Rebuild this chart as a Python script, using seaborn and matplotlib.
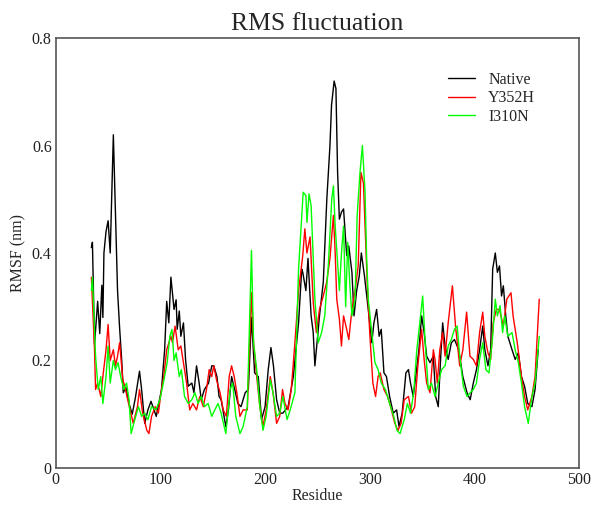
import matplotlib
matplotlib.use('Agg')
import matplotlib.pyplot as plt
import numpy as np
import pandas as pd
import seaborn as sns

# значения (остаток, RMSF в нм)
native_res = [34, 35, 37, 40, 42, 44, 45, 46, 48, 50, 51, 52, 55, 59, 61, 63, 64.5, 67, 70, 73,
              76, 80, 82, 85, 88, 91, 96, 101, 104, 106, 108, 110, 113, 115, 116, 118, 119.5, 122, 124, 126.5,
              130, 132, 134.5, 137, 139, 142, 146, 149, 151, 154, 156, 158, 162.5, 165, 168, 171, 174, 177, 181, 184,
              187, 190, 193.5, 196.6, 200, 203, 205.6, 208, 211, 214, 217, 222, 227, 232, 235, 236, 239, 241, 244, 246,
              247.6, 249, 252, 255.6, 259, 262, 263.5, 266, 267.7, 269.3, 271, 273, 275, 278, 280, 283, 285, 287.5, 290, 292,
              295, 298.6, 302, 304, 306.6, 309, 311, 313.6, 316, 319, 322.5, 325.7, 328, 331, 334.6, 337, 339, 341.6, 344, 347,
              349.6, 352, 354.4, 357.6, 360.8, 363, 365.5, 367.7, 369.7, 372, 375, 378, 381, 385, 389, 393, 396, 399, 402, 405,
              408, 410, 413, 415.6, 417.5, 420, 422, 424, 426, 427.7, 430, 432, 436, 439, 442, 445, 448, 451, 455, 458, 461]
native_rmsf = [0.41, 0.42, 0.23, 0.31, 0.25, 0.34, 0.28, 0.40, 0.44, 0.46, 0.43, 0.40, 0.62, 0.33, 0.26, 0.20, 0.14, 0.15, 0.12, 0.10,
               0.13, 0.18, 0.146, 0.083, 0.108, 0.124, 0.096, 0.146, 0.22, 0.31, 0.27, 0.355, 0.295, 0.313, 0.258, 0.292, 0.245, 0.27, 0.202, 0.152,
               0.158, 0.14, 0.19, 0.158, 0.127, 0.146, 0.158, 0.19, 0.19, 0.17, 0.133, 0.127, 0.077, 0.108, 0.17, 0.146, 0.12, 0.114, 0.14, 0.146,
               0.28, 0.177, 0.17, 0.09, 0.114, 0.183, 0.224, 0.19, 0.127, 0.102, 0.102, 0.114, 0.17, 0.27, 0.37, 0.364, 0.33, 0.39, 0.283, 0.252,
               0.19, 0.22, 0.283, 0.345, 0.50, 0.60, 0.675, 0.72, 0.706, 0.55, 0.463, 0.476, 0.482, 0.395, 0.413, 0.364, 0.283, 0.33, 0.357, 0.40,
               0.357, 0.295, 0.233, 0.27, 0.295, 0.245, 0.258, 0.177, 0.17, 0.133, 0.102, 0.108, 0.077, 0.102, 0.177, 0.183, 0.158, 0.133, 0.17, 0.22,
               0.283, 0.252, 0.208, 0.196, 0.208, 0.133, 0.114, 0.202, 0.27, 0.227, 0.202, 0.233, 0.239, 0.22, 0.17, 0.14, 0.127, 0.158, 0.183, 0.22,
               0.264, 0.22, 0.19, 0.22, 0.37, 0.40, 0.364, 0.376, 0.32, 0.339, 0.283, 0.245, 0.22, 0.202, 0.214, 0.17, 0.152, 0.12, 0.114, 0.146, 0.22]

y352h_res = [34, 37, 38, 40, 43, 45, 48, 50, 52, 55, 57, 59, 61, 64, 66, 68, 71, 74, 78, 80,
             83, 87, 89, 91.5, 95, 98, 101, 103, 106, 110, 111.5, 114, 117, 119.5, 122, 125, 128, 131, 134.5, 137.6,
             141, 144, 146.6, 149, 151, 153.6, 157, 160, 163, 165.7, 168, 170.5, 173, 176, 179, 183, 187, 189, 192, 195,
             198, 201, 205, 207.6, 211, 214, 216.7, 219, 222, 225, 228.5, 232, 236, 238, 240, 243, 246, 249, 252, 255.6,
             258.8, 262, 265.3, 267, 268.5, 271, 273, 275, 278, 280, 283, 286, 289, 291.6, 294, 296, 297.6, 300, 303, 305.6,
             308, 310, 313.6, 317, 320, 324, 327, 330, 333, 337, 340, 343, 346, 349.6, 352, 354.4, 357.6, 360.8, 362.4, 364.6,
             367, 369.7, 372, 375, 379, 382, 386, 389, 392.6, 395.8, 399, 402, 405, 408, 410, 413, 415.6, 418, 421, 424,
             427.7, 431, 435, 437, 441, 445, 448, 451, 455, 458, 462]
y352h_rmsf = [0.355, 0.22, 0.146, 0.158, 0.133, 0.17, 0.22, 0.267, 0.20, 0.22, 0.19, 0.208, 0.233, 0.164, 0.152, 0.133, 0.108, 0.083, 0.114, 0.146,
              0.102, 0.07, 0.064, 0.096, 0.114, 0.102, 0.146, 0.168, 0.22, 0.245, 0.233, 0.264, 0.22, 0.227, 0.196, 0.158, 0.108, 0.12, 0.108, 0.133,
              0.114, 0.146, 0.183, 0.17, 0.19, 0.164, 0.14, 0.108, 0.096, 0.17, 0.19, 0.17, 0.14, 0.096, 0.108, 0.108, 0.326, 0.233, 0.17, 0.114,
              0.077, 0.108, 0.17, 0.14, 0.083, 0.096, 0.146, 0.12, 0.108, 0.146, 0.233, 0.33, 0.395, 0.445, 0.40, 0.43, 0.308, 0.252, 0.295, 0.32,
              0.345, 0.39, 0.47, 0.40, 0.314, 0.277, 0.227, 0.283, 0.258, 0.239, 0.295, 0.33, 0.376, 0.55, 0.53, 0.426, 0.345, 0.252, 0.158, 0.133,
              0.17, 0.177, 0.146, 0.133, 0.114, 0.083, 0.07, 0.083, 0.127, 0.133, 0.102, 0.114, 0.19, 0.258, 0.202, 0.158, 0.14, 0.22, 0.202, 0.158,
              0.22, 0.252, 0.208, 0.27, 0.339, 0.264, 0.19, 0.22, 0.29, 0.208, 0.202, 0.19, 0.252, 0.29, 0.245, 0.214, 0.202, 0.27, 0.295, 0.295,
              0.264, 0.314, 0.326, 0.283, 0.233, 0.17, 0.133, 0.108, 0.133, 0.17, 0.314]

i310n_res = [34, 35, 38, 40.5, 43, 45, 48, 50, 52, 55, 57, 59.5, 62, 65, 67.6, 70, 72, 75.5, 79, 82,
             85, 88, 91.5, 95.6, 99.5, 104, 106.4, 109, 111, 113, 115, 118, 120, 123, 126.5, 130, 133, 136, 139, 142,
             145.6, 149, 152, 155, 158, 162.5, 166.6, 169, 172, 176, 179, 183, 187, 189, 192, 195, 198, 201, 205, 207.6,
             211, 214, 217, 221, 224, 228.5, 232, 236.4, 239, 240, 242, 244, 247.6, 250.8, 254, 257, 260.4, 263.7, 265.3, 267,
             269, 271, 273, 275, 277, 279, 281, 283, 286, 288, 290.7, 293, 295.5, 297, 298.6, 302, 305, 308, 311, 315,
             319, 323, 326, 329, 333, 336, 339, 342, 345, 348.6, 350.6, 353, 356, 359, 362.4, 365.5, 368.7, 372, 375, 378,
             381, 383.6, 386, 389.5, 393, 396, 399, 402, 405, 408, 411, 414, 417.5, 420, 422, 424.6, 427, 429, 432, 436,
             439, 442, 445, 448, 451.5, 455, 458, 462]
i310n_rmsf = [0.33, 0.355, 0.208, 0.146, 0.17, 0.12, 0.17, 0.227, 0.158, 0.20, 0.183, 0.196, 0.17, 0.146, 0.158, 0.127, 0.064, 0.09, 0.114, 0.096,
              0.102, 0.09, 0.114, 0.108, 0.127, 0.17, 0.196, 0.245, 0.258, 0.20, 0.214, 0.17, 0.183, 0.133, 0.12, 0.127, 0.14, 0.12, 0.133, 0.114,
              0.12, 0.096, 0.108, 0.12, 0.102, 0.064, 0.146, 0.158, 0.096, 0.064, 0.077, 0.114, 0.405, 0.233, 0.183, 0.114, 0.07, 0.096, 0.164, 0.14,
              0.096, 0.102, 0.133, 0.09, 0.108, 0.14, 0.37, 0.513, 0.507, 0.457, 0.51, 0.488, 0.314, 0.233, 0.252, 0.283, 0.376, 0.50, 0.525, 0.45,
              0.39, 0.33, 0.40, 0.45, 0.30, 0.42, 0.34, 0.283, 0.314, 0.47, 0.55, 0.60, 0.514, 0.395, 0.314, 0.252, 0.196, 0.183, 0.158, 0.146,
              0.12, 0.096, 0.07, 0.064, 0.09, 0.12, 0.102, 0.14, 0.22, 0.283, 0.32, 0.233, 0.146, 0.158, 0.133, 0.158, 0.183, 0.19, 0.227, 0.239,
              0.258, 0.264, 0.208, 0.152, 0.133, 0.14, 0.146, 0.158, 0.202, 0.233, 0.183, 0.177, 0.245, 0.314, 0.283, 0.302, 0.252, 0.283, 0.245, 0.252,
              0.22, 0.196, 0.158, 0.114, 0.083, 0.133, 0.158, 0.245]

series_names = ['Native', 'Y352H', 'I310N']
series_colors = ['black', '#ff0000', '#00ff00']


def plot_chart():
    sns.set_style('white')
    plt.rcParams['font.family'] = ['Liberation Serif', 'DejaVu Serif']

    df = pd.concat([
        pd.DataFrame({'residue': native_res, 'rmsf': native_rmsf}).assign(set='Native'),
        pd.DataFrame({'residue': y352h_res, 'rmsf': y352h_rmsf}).assign(set='Y352H'),
        pd.DataFrame({'residue': i310n_res, 'rmsf': i310n_rmsf}).assign(set='I310N'),
    ], ignore_index=True)

    fig = plt.figure(figsize=(6.0, 5.07), dpi=100)
    ax = fig.add_axes([0.093, 0.077, 0.872, 0.848])

    sns.lineplot(data=df
                 , x='residue'
                 , y='rmsf'
                 , hue='set'
                 , hue_order=series_names
                 , palette=dict(zip(series_names, series_colors))
                 , estimator=None
                 , sort=False
                 , linewidth=1.0
                 , ax=ax
                 )

    ax.set_xlim(0, 500)
    ax.set_ylim(0, 0.8)
    ax.set_xticks([0, 100, 200, 300, 400, 500])
    ax.set_yticks([0, 0.2, 0.4, 0.6, 0.8])
    ax.set_yticklabels(['0', '0.2', '0.4', '0.6', '0.8'])
    ax.tick_params(length=0, labelsize=11.5, pad=3, colors='#222222')
    for s in ax.spines.values():
        s.set_color('#555555')
        s.set_linewidth(1.2)

    ax.set_xlabel('Residue', fontsize=11.5, labelpad=0)
    ax.set_ylabel('RMSF (nm)', fontsize=11.5, labelpad=4)
    ax.set_title('RMS fluctuation', fontsize=18.5, pad=6)

    ax.legend(frameon=False
              , loc='upper left'
              , bbox_to_anchor=(0.735, 0.94)
              , fontsize=11.5
              , handlelength=1.7
              , handletextpad=0.8
              , labelspacing=0.15
              , borderpad=0
              )

    fig.savefig('out.png', dpi=100)


plot_chart()
